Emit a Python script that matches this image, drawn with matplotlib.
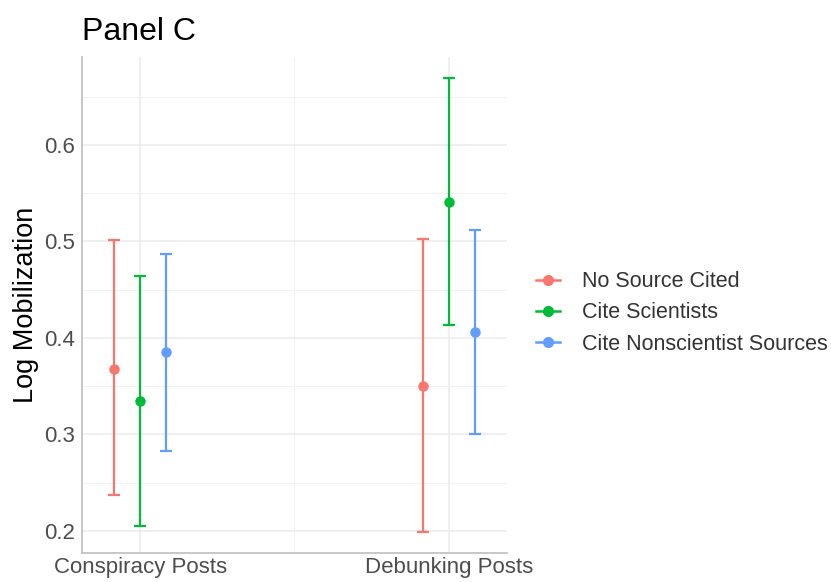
import numpy as np
import matplotlib
matplotlib.use("Agg")
import matplotlib.pyplot as plt
from matplotlib.lines import Line2D

plt.rcParams['font.family'] = ['Liberation Sans', 'DejaVu Sans']

# data
categories = ["Conspiracy Posts", "Debunking Posts"]
groups = ["No Source Cited", "Cite Scientists", "Cite Nonscientist Sources"]
colors = ["#F8766D", "#00BA38", "#619CFF"]
means = [[0.368, 0.350],
         [0.335, 0.541],
         [0.385, 0.406]]
lower = [[0.237, 0.199],
         [0.205, 0.413],
         [0.283, 0.300]]
upper = [[0.501, 0.502],
         [0.464, 0.669],
         [0.487, 0.512]]

fig = plt.figure(figsize=(8.31, 5.82), dpi=100)
ax = fig.add_axes([0.0987, 0.0498, 0.5113, 0.8522])

x = np.arange(1, len(categories) + 1)
offsets = [-0.084, 0.0, 0.084]
for i, g in enumerate(groups):
    m = np.array(means[i])
    lo = m - np.array(lower[i])
    hi = np.array(upper[i]) - m
    ax.errorbar(x + offsets[i], m, yerr=[lo, hi], fmt='o', color=colors[i],
                ms=6.5, elinewidth=1.6, capsize=4.3, capthick=1.6, zorder=3)

ax.set_xlim(0.812, 2.188)
ax.set_ylim(0.177, 0.691)
ax.set_xticks(x)
ax.set_xticklabels(categories)
ax.set_xticks([1.5], minor=True)
ax.set_yticks([0.2, 0.3, 0.4, 0.5, 0.6])
ax.set_yticks([0.25, 0.35, 0.45, 0.55, 0.65], minor=True)
ax.yaxis.set_major_formatter(matplotlib.ticker.FormatStrFormatter('%.1f'))

ax.grid(which='major', color='#EBEBEB', lw=1.1, zorder=0)
ax.grid(which='minor', color='#F2F2F2', lw=0.8, zorder=0)
ax.tick_params(which='both', length=0)
ax.tick_params(axis='both', labelsize=16, colors='#4D4D4D')
ax.tick_params(axis='x', pad=3)
ax.tick_params(axis='y', pad=5)
for s in ['top', 'right']:
    ax.spines[s].set_visible(False)
for s in ['left', 'bottom']:
    ax.spines[s].set_color('#BEBEBE')
    ax.spines[s].set_linewidth(1.2)

ax.set_ylabel("Log Mobilization", fontsize=19.5, color='black', labelpad=4)
ax.set_title("Panel C", fontsize=23, loc='left', pad=12)

# legend keys: line through point, like a pointrange key
handles = [Line2D([], [], color=c, marker='o', ms=7, lw=1.8) for c in colors]
leg = ax.legend(handles, groups, loc='center left', bbox_to_anchor=(1.024, 0.484),
                frameon=False, fontsize=15.5, handlelength=1.1,
                handletextpad=1.0, labelspacing=0.47)
for t in leg.get_texts():
    t.set_color('#333333')

fig.savefig("out.png", dpi=100)
